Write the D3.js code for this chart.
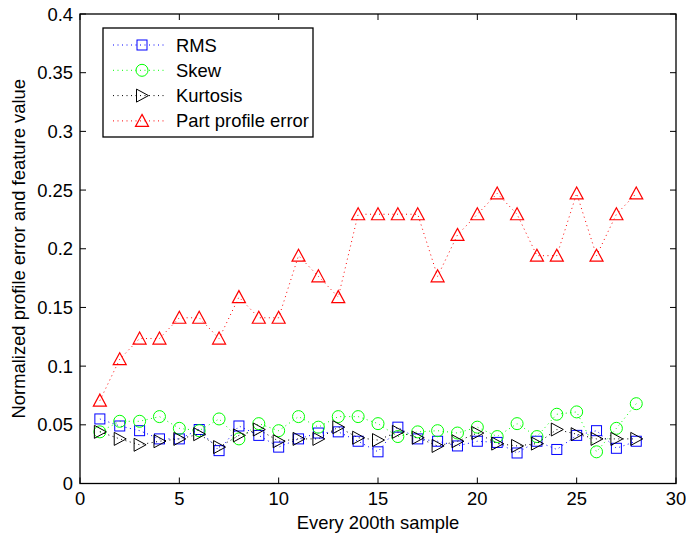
<!DOCTYPE html>
<html>
<head>
<meta charset="utf-8">
<script src="https://cdn.jsdelivr.net/npm/d3@7"></script>
<style>
  html, body { margin: 0; padding: 0; background: #fff; }
  svg { display: block; font-family: "Liberation Sans", Arial, Helvetica, sans-serif; }
</style>
</head>
<body>
<svg id="chart" width="686" height="535"></svg>
<script>
// Sample index (every 200th sample)
const samples = d3.range(1, 29);

// Feature values per sample
const rms = [0.055, 0.049, 0.045, 0.038, 0.038, 0.046, 0.028, 0.049, 0.041, 0.031,
             0.038, 0.043, 0.044, 0.036, 0.027, 0.048, 0.038, 0.036, 0.032, 0.036,
             0.035, 0.026, 0.036, 0.029, 0.041, 0.045, 0.030, 0.036];
const skew = [0.044, 0.053, 0.053, 0.057, 0.047, 0.045, 0.055, 0.038, 0.051, 0.045,
              0.057, 0.048, 0.057, 0.057, 0.051, 0.040, 0.044, 0.045, 0.043, 0.048,
              0.040, 0.051, 0.040, 0.059, 0.061, 0.027, 0.047, 0.068];
const kurtosis = [0.044, 0.038, 0.033, 0.036, 0.038, 0.042, 0.031, 0.041, 0.046, 0.036,
                  0.038, 0.038, 0.048, 0.039, 0.037, 0.044, 0.039, 0.032, 0.036, 0.043,
                  0.034, 0.032, 0.034, 0.046, 0.042, 0.038, 0.038, 0.038];
const partError = [0.0706, 0.1059, 0.1235, 0.1235, 0.1412, 0.1412, 0.1235, 0.1588, 0.1412, 0.1412,
                   0.1941, 0.1765, 0.1588, 0.2294, 0.2294, 0.2294, 0.2294, 0.1765, 0.2118, 0.2294,
                   0.2471, 0.2294, 0.1941, 0.1941, 0.2471, 0.1941, 0.2294, 0.2471];

const xTicks = [0, 5, 10, 15, 20, 25, 30];
const yTicks = [0, 0.05, 0.1, 0.15, 0.2, 0.25, 0.3, 0.35, 0.4];

const seriesNames = ["RMS", "Skew", "Kurtosis", "Part profile error"];
const seriesColors = ["#0000ff", "#00ff00", "#000000", "#ff0000"];
const seriesMarkers = ["square", "circle", "triangleRight", "triangleUp"];
const seriesValues = [rms, skew, kurtosis, partError];

const svg = d3.select("#chart");
const plotLeft = 80, plotRight = 676, plotTop = 14, plotBottom = 483.5;

const x = d3.scaleLinear().domain([0, 30]).range([plotLeft, plotRight]);
const y = d3.scaleLinear().domain([0, 0.4]).range([plotBottom, plotTop]);

const fontSize = 18.4;

// Marker drawing helper
function drawMarker(g, type, cx, cy, color) {
  if (type === "square") {
    g.append("rect").attr("x", cx - 5).attr("y", cy - 5).attr("width", 10).attr("height", 10)
      .attr("fill", "none").attr("stroke", color).attr("stroke-width", 1);
  } else if (type === "circle") {
    g.append("circle").attr("cx", cx).attr("cy", cy).attr("r", 6)
      .attr("fill", "none").attr("stroke", color).attr("stroke-width", 1);
  } else if (type === "triangleRight") {
    g.append("path")
      .attr("d", `M${cx - 5.5},${cy - 6.5}L${cx + 6.5},${cy}L${cx - 5.5},${cy + 6.5}Z`)
      .attr("fill", "none").attr("stroke", color).attr("stroke-width", 1);
  } else if (type === "triangleUp") {
    g.append("path")
      .attr("d", `M${cx},${cy - 6.5}L${cx + 6.5},${cy + 5.5}L${cx - 6.5},${cy + 5.5}Z`)
      .attr("fill", "none").attr("stroke", color).attr("stroke-width", 1.2);
  }
}

// Series: dotted connecting lines plus markers
const line = d3.line().x((d, i) => x(samples[i])).y(d => y(d));
seriesValues.forEach((vals, si) => {
  const g = svg.append("g");
  g.append("path").datum(vals).attr("d", line)
    .attr("fill", "none").attr("stroke", seriesColors[si])
    .attr("stroke-width", 1).attr("stroke-dasharray", "1,3.5");
  vals.forEach((v, i) => drawMarker(g, seriesMarkers[si], x(samples[i]), y(v), seriesColors[si]));
});

// Axes box with inward ticks on all four sides
const axisG = svg.append("g").attr("stroke", "#000").attr("stroke-width", 1);
axisG.append("rect").attr("x", plotLeft).attr("y", plotTop)
  .attr("width", plotRight - plotLeft).attr("height", plotBottom - plotTop)
  .attr("fill", "none").attr("stroke-width", 1.3);
const tickLen = 6;
xTicks.forEach(t => {
  axisG.append("line").attr("x1", x(t)).attr("x2", x(t)).attr("y1", plotBottom).attr("y2", plotBottom - tickLen);
  axisG.append("line").attr("x1", x(t)).attr("x2", x(t)).attr("y1", plotTop).attr("y2", plotTop + tickLen);
});
yTicks.forEach(t => {
  axisG.append("line").attr("x1", plotLeft).attr("x2", plotLeft + tickLen).attr("y1", y(t)).attr("y2", y(t));
  axisG.append("line").attr("x1", plotRight).attr("x2", plotRight - tickLen).attr("y1", y(t)).attr("y2", y(t));
});

// Tick labels
svg.append("g").selectAll("text").data(xTicks).join("text")
  .attr("x", d => x(d)).attr("y", plotBottom + 21)
  .attr("text-anchor", "middle").attr("font-size", fontSize)
  .text(d => String(d));
svg.append("g").selectAll("text").data(yTicks).join("text")
  .attr("x", plotLeft - 7).attr("y", d => y(d) + 6.5)
  .attr("text-anchor", "end").attr("font-size", fontSize)
  .text(d => String(d));

// Axis labels
svg.append("text").attr("x", (plotLeft + plotRight) / 2).attr("y", 529)
  .attr("text-anchor", "middle").attr("font-size", fontSize)
  .text("Every 200th sample");
svg.append("text")
  .attr("transform", `translate(25,${(plotTop + plotBottom) / 2}) rotate(-90)`)
  .attr("text-anchor", "middle").attr("font-size", fontSize)
  .text("Normalized profile error and feature value");

// Legend
const leg = svg.append("g");
leg.append("rect").attr("x", 103).attr("y", 28).attr("width", 210).attr("height", 109)
  .attr("fill", "#fff").attr("stroke", "#000").attr("stroke-width", 1.3);
seriesNames.forEach((name, i) => {
  const ly = 45 + i * 25.3;
  leg.append("line").attr("x1", 113).attr("x2", 166).attr("y1", ly).attr("y2", ly)
    .attr("stroke", seriesColors[i]).attr("stroke-width", 1).attr("stroke-dasharray", "1,3.5");
  drawMarker(leg, seriesMarkers[i], 142, ly, seriesColors[i]);
  leg.append("text").attr("x", 176).attr("y", ly + 6.5).attr("font-size", fontSize).text(name);
});
</script>
</body>
</html>
